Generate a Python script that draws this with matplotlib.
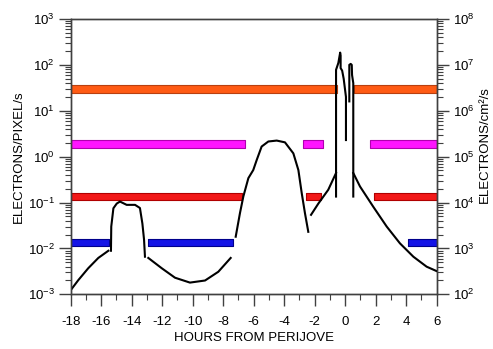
import matplotlib
matplotlib.use("Agg")
import matplotlib.pyplot as plt
import numpy as np

plt.rcParams['font.family'] = ['Liberation Sans', 'DejaVu Sans']
plt.rcParams['axes.unicode_minus'] = False
plt.rcParams['mathtext.fontset'] = 'custom'
plt.rcParams['mathtext.rm'] = 'Liberation Sans'
plt.rcParams['mathtext.it'] = 'Liberation Sans'

# ---- data: threshold bars (level, list of (start, end) hour spans) ----
orange_level = 30.0
orange_spans = [(-18, -0.56), (0.6, 6)]
magenta_level = 1.9
magenta_spans = [(-18, -6.57), (-2.75, -1.48), (1.63, 6)]
red_level = 0.135
red_spans = [(-18, -6.75), (-2.57, -1.6), (1.89, 6)]
blue_level = 0.0135
blue_spans = [(-18, -15.47), (-12.95, -7.34), (4.14, 6)]

# ---- data: electron count curve segments (hours, electrons/pixel/s) ----
seg1_x = [-18.0, -17.5, -16.85, -16.19, -15.53]
seg1_y = [0.00123, 0.00204, 0.0037, 0.0062, 0.0089]

seg2_x = [-15.36, -15.34, -15.2, -14.98, -14.77, -14.33, -13.78, -13.46, -13.3, -13.19, -13.13]
seg2_y = [0.0089, 0.03, 0.075, 0.095, 0.105, 0.089, 0.089, 0.076, 0.035, 0.0155, 0.0066]

seg3_x = [-12.91, -12.03, -11.16, -10.18, -9.19, -8.32, -7.51]
seg3_y = [0.0062, 0.0037, 0.0023, 0.0018, 0.0020, 0.0031, 0.0062]

seg4_x = [-7.18, -6.9, -6.68, -6.35, -6.03, -5.8, -5.48, -5.04, -4.49, -3.95,
          -3.4, -3.07, -2.85, -2.64, -2.42]
seg4_y = [0.018, 0.059, 0.135, 0.34, 0.51, 0.85, 1.66, 2.14, 2.24, 2.05,
          1.18, 0.51, 0.16, 0.059, 0.023]

seg5_x = [-2.24, -1.76, -1.11, -0.6]
seg5_y = [0.054, 0.095, 0.19, 0.44]

spike1_x = [-0.6, -0.6, -0.45, -0.33, -0.3, -0.3, -0.2, -0.1, 0.05, 0.05]
spike1_y = [0.135, 78, 110, 185, 160, 85, 75, 50, 20, 2.3]

spike2_x = [0.27, 0.27, 0.36, 0.43, 0.45, 0.53, 0.53]
spike2_y = [16, 100, 105, 100, 60, 40, 0.135]

seg6_x = [0.53, 0.97, 1.84, 2.72, 3.59, 4.47, 5.34, 6.0]
seg6_y = [0.44, 0.224, 0.081, 0.030, 0.0129, 0.0066, 0.0040, 0.0032]

x_ticks = list(range(-18, 7, 2))

fig = plt.figure(figsize=(4.93, 3.49), dpi=100)
ax = fig.add_axes([0.1434, 0.1567, 0.7424, 0.7889])
ax.set_yscale('log')
ax.set_xlim(-18, 6)
ax.set_ylim(1e-3, 1e3)

half = 0.085
def draw_bars(level, spans, face, edge):
    for a, b in spans:
        ax.fill_between([a, b], level * 10**-half, level * 10**half,
                        facecolor=face, edgecolor=edge, linewidth=0.8, zorder=2)

draw_bars(orange_level, orange_spans, '#FF5B14', '#B84010')
draw_bars(magenta_level, magenta_spans, '#FF14FF', '#B000B0')
draw_bars(red_level, red_spans, '#F21818', '#B00000')
draw_bars(blue_level, blue_spans, '#1414E6', '#00008C')

for xs, ys in [(seg1_x, seg1_y), (seg2_x, seg2_y), (seg3_x, seg3_y), (seg4_x, seg4_y),
               (seg5_x, seg5_y), (spike1_x, spike1_y), (spike2_x, spike2_y), (seg6_x, seg6_y)]:
    ax.plot(xs, ys, color='black', linewidth=1.5, zorder=3, solid_joinstyle='round')

ax.set_xticks(x_ticks)
ax.set_xticks(range(-18, 7, 1), minor=True)
ax.set_xticklabels([str(t) for t in x_ticks])
ax.set_yticks([10.0**k for k in range(-3, 4)])

spine_c = '#404040'
for s in ax.spines.values():
    s.set_color(spine_c)
    s.set_linewidth(1.0)
ax.tick_params(axis='both', which='major', direction='out', length=8.5, width=1.0,
               color=spine_c, labelsize=9.5, pad=3)
ax.tick_params(axis='both', which='minor', direction='out', length=4.5, width=0.8, color=spine_c)
ax.tick_params(axis='x', which='major', pad=7)

ax.set_xlabel('HOURS FROM PERIJOVE', fontsize=9.5, labelpad=3)
ax.set_ylabel('ELECTRONS/PIXEL/s', fontsize=9.5, labelpad=2)

ax2 = ax.twinx()
ax2.set_yscale('log')
ax2.set_ylim(1e2, 1e8)
ax2.set_yticks([10.0**k for k in range(2, 9)])
for s in ax2.spines.values():
    s.set_color(spine_c)
    s.set_linewidth(1.0)
ax2.tick_params(axis='y', which='major', direction='out', length=8.5, width=1.0,
                color=spine_c, labelsize=9.5, pad=3)
ax2.tick_params(axis='y', which='minor', direction='out', length=4.5, width=0.8, color=spine_c)

fig.text(485 / 493, 1 - 145 / 349, 'ELECTRONS/cm²/s', rotation=90, ha='center', va='center',
         fontsize=9.5)

fig.savefig('out.png', dpi=100)
